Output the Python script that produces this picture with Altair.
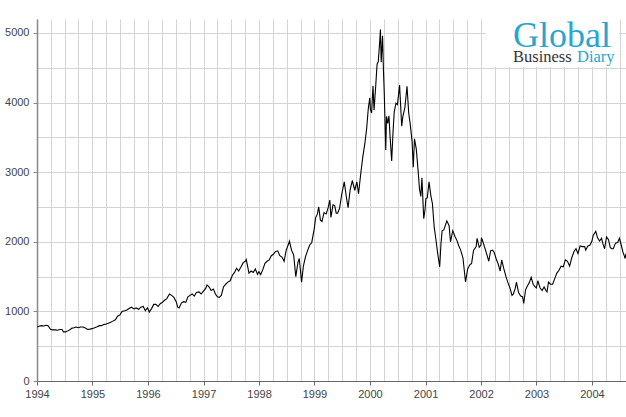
import altair as alt
import pandas as pd

dates = [
 "1994-01-03","1994-01-18","1994-02-01","1994-02-15","1994-03-01","1994-03-15","1994-03-31","1994-04-15","1994-05-01","1994-05-15","1994-06-01","1994-06-15","1994-06-24","1994-07-08","1994-07-22","1994-08-05","1994-08-19","1994-09-01","1994-09-15","1994-10-01","1994-10-15","1994-11-01","1994-11-15","1994-11-30","1994-12-15","1994-12-30",
 "1995-01-15","1995-02-01","1995-02-15","1995-03-01","1995-03-15","1995-04-01","1995-04-15","1995-05-01","1995-05-15","1995-06-01","1995-06-15","1995-07-01","1995-07-15","1995-08-01","1995-08-15","1995-09-01","1995-09-15","1995-10-01","1995-10-15","1995-11-01","1995-11-15","1995-12-01","1995-12-15","1995-12-29",
 "1996-01-10","1996-01-25","1996-02-08","1996-02-22","1996-03-08","1996-03-22","1996-04-05","1996-04-19","1996-05-03","1996-05-22","1996-06-05","1996-06-20","1996-07-05","1996-07-15","1996-07-24","1996-08-08","1996-08-22","1996-09-06","1996-09-20","1996-10-04","1996-10-18","1996-11-01","1996-11-15","1996-12-02","1996-12-16","1996-12-31",
 "1997-01-15","1997-01-24","1997-02-07","1997-02-20","1997-03-07","1997-03-20","1997-04-02","1997-04-14","1997-04-28","1997-05-12","1997-05-27","1997-06-10","1997-06-25","1997-07-10","1997-07-24","1997-08-06","1997-08-20","1997-09-05","1997-09-19","1997-10-02","1997-10-09","1997-10-27","1997-11-10","1997-11-24","1997-12-08","1997-12-22","1997-12-31",
 "1998-01-12","1998-01-26","1998-02-09","1998-02-23","1998-03-09","1998-03-23","1998-04-06","1998-04-20","1998-05-04","1998-05-18","1998-06-01","1998-06-15","1998-06-29","1998-07-13","1998-07-20","1998-08-03","1998-08-17","1998-08-31","1998-09-14","1998-09-23","1998-10-08","1998-10-20","1998-11-02","1998-11-16","1998-11-30","1998-12-14","1998-12-31",
 "1999-01-08","1999-01-20","1999-01-29","1999-02-09","1999-02-19","1999-03-05","1999-03-19","1999-04-01","1999-04-12","1999-04-19","1999-05-03","1999-05-14","1999-05-24","1999-06-02","1999-06-15","1999-06-30","1999-07-16","1999-07-30","1999-08-10","1999-08-24","1999-09-07","1999-09-23","1999-10-07","1999-10-18","1999-11-01","1999-11-15","1999-11-29","1999-12-10","1999-12-21","1999-12-31",
 "2000-01-04","2000-01-12","2000-01-21","2000-01-28","2000-02-08","2000-02-17","2000-02-25","2000-03-06","2000-03-10","2000-03-15","2000-03-24","2000-03-30","2000-04-04","2000-04-14","2000-04-19","2000-04-27","2000-05-05","2000-05-12","2000-05-23","2000-06-01","2000-06-09","2000-06-20","2000-06-30","2000-07-14","2000-07-28","2000-08-04","2000-08-18","2000-09-01","2000-09-12","2000-09-22","2000-10-04","2000-10-12","2000-10-20","2000-11-01","2000-11-13","2000-11-22","2000-12-01","2000-12-08","2000-12-20","2000-12-29",
 "2001-01-03","2001-01-12","2001-01-24","2001-02-05","2001-02-15","2001-02-27","2001-03-09","2001-03-22","2001-04-04","2001-04-12","2001-04-20","2001-05-01","2001-05-21","2001-06-05","2001-06-14","2001-06-29","2001-07-13","2001-07-26","2001-08-08","2001-08-20","2001-09-04","2001-09-21","2001-10-05","2001-10-19","2001-10-31","2001-11-13","2001-11-30","2001-12-06","2001-12-20","2001-12-31",
 "2002-01-04","2002-01-15","2002-01-29","2002-02-08","2002-02-21","2002-03-05","2002-03-18","2002-03-28","2002-04-10","2002-04-24","2002-05-07","2002-05-17","2002-05-30","2002-06-14","2002-06-26","2002-07-10","2002-07-24","2002-08-02","2002-08-14","2002-08-22","2002-09-05","2002-09-19","2002-10-01","2002-10-09","2002-10-21","2002-11-01","2002-11-14","2002-11-27","2002-12-10","2002-12-20","2002-12-31",
 "2003-01-10","2003-01-24","2003-02-07","2003-02-20","2003-03-04","2003-03-11","2003-03-21","2003-04-03","2003-04-17","2003-05-01","2003-05-15","2003-05-29","2003-06-12","2003-06-26","2003-07-10","2003-07-24","2003-08-07","2003-08-21","2003-09-05","2003-09-18","2003-10-01","2003-10-15","2003-10-30","2003-11-14","2003-11-21","2003-12-05","2003-12-18","2003-12-31",
 "2004-01-09","2004-01-26","2004-02-06","2004-02-20","2004-03-04","2004-03-12","2004-03-24","2004-04-06","2004-04-19","2004-04-30","2004-05-10","2004-05-20","2004-06-04","2004-06-18","2004-06-30","2004-07-12","2004-07-23","2004-08-02","2004-08-06","2004-08-12",
]
values = [
 777,790,795,790,800,795,743,735,735,730,740,740,705,706,720,735,760,765,775,765,775,775,760,740,745,752,
 765,780,795,795,810,820,830,845,860,880,930,950,1000,1010,1020,1045,1060,1035,1050,1030,1060,1070,1010,1052,
 990,1040,1100,1100,1070,1110,1130,1160,1180,1250,1230,1200,1140,1060,1050,1120,1140,1130,1210,1230,1250,1220,1270,1280,1250,1291,
 1330,1380,1350,1300,1320,1250,1210,1200,1230,1350,1390,1420,1440,1520,1560,1620,1580,1640,1700,1720,1745,1550,1580,1560,1610,1530,1570,
 1530,1600,1690,1720,1740,1800,1820,1860,1870,1800,1780,1720,1880,1960,2010,1880,1810,1500,1700,1760,1420,1650,1780,1870,1950,1990,2193,
 2340,2400,2500,2310,2290,2420,2400,2490,2600,2350,2530,2520,2410,2410,2480,2690,2860,2640,2490,2750,2880,2740,2860,2690,2970,3220,3420,3620,3910,4069,
 3900,3850,4240,3890,4240,4550,4590,4900,5049,4580,4960,4450,4150,3320,3800,3700,3810,3530,3160,3580,3870,3990,3970,4250,3660,3790,3930,4234,3850,3690,3450,3070,3480,3330,3020,2760,2650,2920,2330,2470,
 2620,2630,2860,2660,2550,2210,2050,1830,1640,1960,2160,2170,2300,2230,2000,2160,2080,2020,1940,1880,1770,1423,1610,1670,1690,1880,1930,2050,1920,1950,
 2060,1990,1890,1820,1720,1870,1880,1850,1760,1680,1580,1740,1620,1500,1420,1340,1230,1250,1330,1420,1270,1220,1210,1114,1310,1360,1410,1490,1390,1360,1336,
 1440,1340,1300,1350,1300,1280,1420,1390,1390,1470,1550,1590,1650,1640,1740,1720,1650,1770,1860,1900,1830,1940,1930,1930,1880,1940,1950,2003,
 2090,2150,2060,2010,2050,1980,1900,2070,2030,1920,1900,1900,1980,1990,2050,1950,1850,1790,1760,1830,
]

years = list(range(1994, 2005))
quarter_months = [1, 4, 7, 10]
y_grid_values = list(range(0, 5001, 500))
logo_words = ["Global", "Business", "Diary"]

df = pd.DataFrame({"date": dates, "value": values})
one = pd.DataFrame({"k": [0]})

x_tick_values = [alt.DateTime(year=y, month=m, date=1, utc=True)
                 for y in years for m in quarter_months
                 if not (y == 2004 and m > 7)]

FONT = "Liberation Sans"

line = alt.Chart(df).mark_line(color="black", strokeWidth=1.1, clip=True).encode(
    x=alt.X("date:T",
            scale=alt.Scale(type="utc",
                            domain=[alt.DateTime(year=1994, month=1, date=1, utc=True),
                                    alt.DateTime(year=2004, month=8, date=12, utc=True)]),
            axis=alt.Axis(values=x_tick_values, title=None,
                          labelExpr="utcmonth(datum.value) == 0 ? utcFormat(datum.value, '%Y') : ''",
                          labelOverlap=False, labelFlush=False, labelAlign="center",
                          labelFont=FONT, labelFontSize=11, labelColor="#444",
                          labelPadding=3, tickSize=4, tickColor="#666",
                          tickOpacity={"condition": {"test": "utcmonth(datum.value) == 0", "value": 1}, "value": 0},
                          domainColor="#666", domainWidth=1.2,
                          grid=True, gridColor="#d4d4d4", gridWidth=1)),
    y=alt.Y("value:Q",
            scale=alt.Scale(domain=[0, 5200], nice=False, zero=True),
            axis=alt.Axis(values=y_grid_values, title=None, format="d",
                          labelExpr="datum.value % 1000 == 0 ? datum.label : ''",
                          labelOverlap=False, labelFont=FONT, labelFontSize=11, labelColor="#444",
                          labelPadding=4, tickSize=4, tickColor="#888",
                          tickOpacity={"condition": {"test": "datum.value % 1000 == 0", "value": 1}, "value": 0},
                          domainColor="#888", domainWidth=1.5,
                          grid=True, gridColor="#d4d4d4", gridWidth=1)),
)

logo_bg = alt.Chart(one).mark_rect(color="white").encode(
    x=alt.value(449), x2=alt.value(582), y=alt.value(-5), y2=alt.value(48)
)
logo_global = alt.Chart(one).mark_text(
    text=logo_words[0], font="Liberation Serif", fontSize=36, color="#29a6cf",
    align="left", baseline="alphabetic"
).encode(x=alt.value(476), y=alt.value(28))
logo_business = alt.Chart(one).mark_text(
    text=logo_words[1], font="Liberation Serif", fontSize=16.5, color="#333333",
    align="left", baseline="alphabetic"
).encode(x=alt.value(476), y=alt.value(43))
logo_diary = alt.Chart(one).mark_text(
    text=logo_words[2], font="Liberation Serif", fontSize=16.5, color="#29a6cf",
    align="left", baseline="alphabetic"
).encode(x=alt.value(540), y=alt.value(43))

chart = alt.layer(line, logo_bg, logo_global, logo_business, logo_diary).properties(
    width=589, height=362,
    autosize=alt.AutoSizeParams(type="none"),
    padding={"left": 37, "top": 19, "right": 0, "bottom": 36},
    background="white",
).configure_view(stroke=None)

chart.save("out.html", embed_options={"renderer": "svg", "actions": False})
